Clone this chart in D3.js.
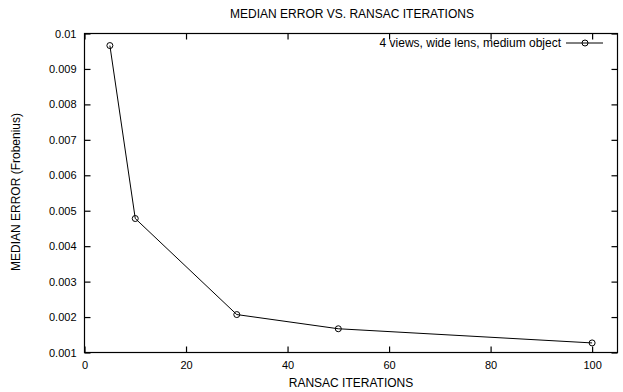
<!DOCTYPE html>
<html>
<head>
<meta charset="utf-8">
<script src="https://cdn.jsdelivr.net/npm/d3@7"></script>
<style>
  body { margin: 0; background: #fff; }
  svg { display: block; font-family: "Liberation Sans", Arial, Helvetica, sans-serif; }
</style>
</head>
<body>
<svg id="chart" width="623" height="392"></svg>
<script>
// RANSAC iteration counts and the resulting median Frobenius error
const iterations = [5, 10, 30, 50, 100];
const medianError = [0.00966, 0.00478, 0.00207, 0.00167, 0.00127];
const seriesName = "4 views, wide lens, medium object";
const xTicks = [0, 20, 40, 60, 80, 100];
const yTicks = [0.001, 0.002, 0.003, 0.004, 0.005, 0.006, 0.007, 0.008, 0.009, 0.01];
const yTickLabels = ["0.001", "0.002", "0.003", "0.004", "0.005", "0.006", "0.007", "0.008", "0.009", "0.01"];

const svg = d3.select("#chart");
const margin = { left: 84.5, right: 5.5, top: 33.5, bottom: 40 };
const W = 623, H = 392;
const x = d3.scaleLinear().domain([0, 105]).range([margin.left, W - margin.right]);
const y = d3.scaleLinear().domain([0.001, 0.01]).range([H - margin.bottom + 0.5, margin.top]);

const tickLen = 6;
const tickFont = 11;
const labelFont = 12;

// Bottom axis (ticks inward) and mirrored top ticks
const xAxis = svg.append("g")
  .attr("transform", `translate(0,${y(0.001)})`)
  .call(d3.axisBottom(x).tickValues(xTicks).tickSizeInner(-tickLen).tickSizeOuter(0).tickPadding(9));
const xTop = svg.append("g")
  .attr("transform", `translate(0,${y(0.01)})`)
  .call(d3.axisTop(x).tickValues(xTicks).tickSizeInner(-tickLen).tickSizeOuter(0).tickFormat(""));

const yAxis = svg.append("g")
  .attr("transform", `translate(${x(0)},0)`)
  .call(d3.axisLeft(y).tickValues(yTicks).tickSizeInner(-tickLen).tickSizeOuter(0).tickPadding(8)
    .tickFormat((d, i) => yTickLabels[i]));
const yRight = svg.append("g")
  .attr("transform", `translate(${x(105)},0)`)
  .call(d3.axisRight(y).tickValues(yTicks).tickSizeInner(-tickLen).tickSizeOuter(0).tickFormat(""));

[xAxis, xTop, yAxis, yRight].forEach(g => {
  g.select(".domain").remove();
  g.selectAll(".tick line").attr("stroke", "#000").attr("stroke-width", 1.2);
  g.selectAll("text").attr("font-size", tickFont).attr("fill", "#000")
    .attr("font-family", "'Liberation Sans', Arial, sans-serif");
});

// Plot border
svg.append("rect")
  .attr("x", x(0)).attr("y", y(0.01))
  .attr("width", x(105) - x(0)).attr("height", y(0.001) - y(0.01))
  .attr("fill", "none").attr("stroke", "#000").attr("stroke-width", 1.2);

// Data line with open circle markers
const pts = iterations.map((v, i) => [v, medianError[i]]);
svg.append("path")
  .datum(pts)
  .attr("fill", "none").attr("stroke", "#000").attr("stroke-width", 1)
  .attr("d", d3.line().x(d => x(d[0])).y(d => y(d[1])));
svg.append("g").selectAll("circle")
  .data(pts).join("circle")
  .attr("cx", d => x(d[0])).attr("cy", d => y(d[1])).attr("r", 3)
  .attr("fill", "none").attr("stroke", "#000").attr("stroke-width", 1);

// Legend entry
const legY = 43;
svg.append("text")
  .attr("x", 561).attr("y", legY + 4)
  .attr("text-anchor", "end").attr("font-size", labelFont)
  .text(seriesName);
svg.append("line")
  .attr("x1", 566).attr("x2", 603).attr("y1", legY).attr("y2", legY)
  .attr("stroke", "#000").attr("stroke-width", 1);
svg.append("circle")
  .attr("cx", 585).attr("cy", legY).attr("r", 3)
  .attr("fill", "none").attr("stroke", "#000").attr("stroke-width", 1);

// Titles
svg.append("text")
  .attr("x", 352).attr("y", 18)
  .attr("text-anchor", "middle").attr("font-size", labelFont)
  .text("MEDIAN ERROR VS. RANSAC ITERATIONS");
svg.append("text")
  .attr("x", 351).attr("y", 387)
  .attr("text-anchor", "middle").attr("font-size", labelFont)
  .text("RANSAC ITERATIONS");
svg.append("text")
  .attr("transform", `translate(20,192) rotate(-90)`)
  .attr("text-anchor", "middle").attr("font-size", labelFont)
  .text("MEDIAN ERROR (Frobenius)");
</script>
</body>
</html>
